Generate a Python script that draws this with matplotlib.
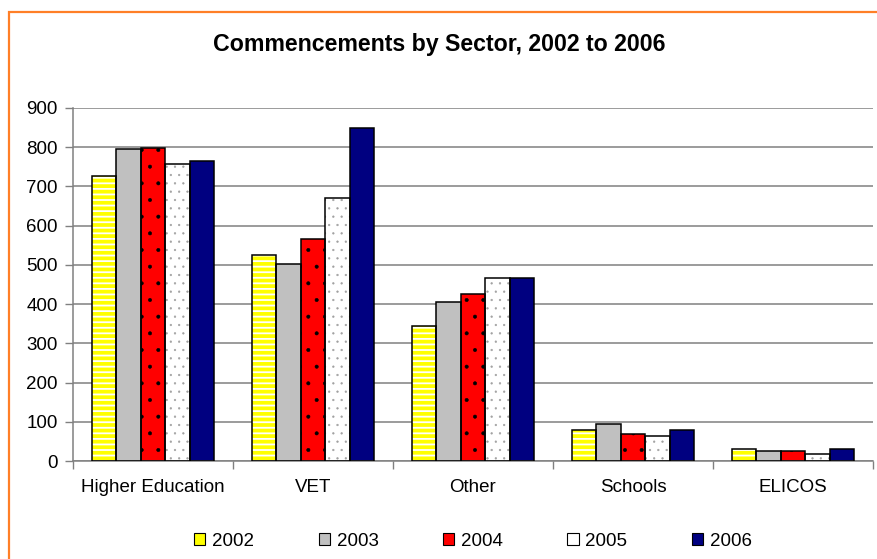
"""
Commencements by sector, 2002 to 2006
Grouped bar chart, one bar per year within each sector.
"""

import matplotlib
matplotlib.use("Agg")
import matplotlib.pyplot as plt
import numpy as np
from matplotlib.patches import Rectangle, Patch


# Data
sectors = ["Higher Education", "VET", "Other", "Schools", "ELICOS"]
years = ["2002", "2003", "2004", "2005", "2006"]
y2002 = [727, 525, 345, 80, 31]
y2003 = [795, 502, 405, 95, 25]
y2004 = [798, 567, 425, 69, 25]
y2005 = [757, 670, 467, 65, 19]
y2006 = [765, 850, 467, 80, 31]
series = [y2002, y2003, y2004, y2005, y2006]

# face colour, hatch, hatch colour, hatch linewidth
styles = [
    ("white", "---", "#FFFF00", 2.7),
    ("#C0C0C0", None, "#C0C0C0", 1.0),
    ("#FF0000", ".", "black", 0.4),
    ("white", "..", "#A0A0A0", 0.4),
    ("#000080", None, "#000080", 1.0),
]
legend_faces = ["#FFFF00", "#C0C0C0", "#FF0000", "white", "#000080"]

plt.rcParams["font.family"] = ["Liberation Sans", "DejaVu Sans"]
fs = 13.5

fig = plt.figure(figsize=(8.78, 5.59), dpi=100)
ax = fig.add_axes([73 / 878, 1 - 461 / 559, 800 / 878, 353 / 559])

# orange frame round the chart (runs off the right and bottom edges)
fig.patches.append(Rectangle((8.5 / 878, -0.2), 1.2, 1.2 - 11.5 / 559,
                             transform=fig.transFigure, fill=False,
                             edgecolor="#FF7F27", linewidth=1.6, zorder=0))

x = np.arange(len(sectors))
width = 0.153
for i, vals in enumerate(series):
    face, hatch, hcol, hlw = styles[i]
    pos = x + (i - 2) * width
    with plt.rc_context({"hatch.linewidth": hlw}):
        bars = ax.bar(pos, vals, width, color=face, hatch=hatch,
                      edgecolor=hcol, linewidth=0, zorder=2)
    for b in bars:
        if hasattr(b, "set_hatch_linewidth"):
            b.set_hatch_linewidth(hlw)
    ax.bar(pos, vals, width, fill=False, edgecolor="black", linewidth=1.1,
           zorder=3)

ax.set_xlim(-0.5, len(sectors) - 0.5)
ax.set_ylim(0, 900)
ax.set_yticks(np.arange(0, 901, 100))
ax.set_xticks(x)
ax.set_xticklabels(sectors, fontsize=fs)
ax.set_xticks(np.arange(-0.5, len(sectors), 1), minor=True)
ax.tick_params(axis="x", which="major", length=0, pad=13)
ax.tick_params(axis="x", which="minor", length=6, width=1, color="#808080",
               direction="out")
ax.tick_params(axis="y", labelsize=fs, length=6, width=1, color="#808080",
               pad=5)
ax.grid(axis="y", color="#808080", linewidth=1.1)
ax.set_axisbelow(True)
for side in ["top", "right"]:
    ax.spines[side].set_visible(False)
for side in ["left", "bottom"]:
    ax.spines[side].set_color("#808080")
    ax.spines[side].set_linewidth(1.1)

fig.text(0.5, 1 - 45 / 559, "Commencements by Sector, 2002 to 2006",
         ha="center", va="center", fontsize=16.7, fontweight="bold")

handles = [Patch(facecolor=c, edgecolor="black", linewidth=0.8)
           for c in legend_faces]
fig.legend(handles, years, loc="center", ncol=5, frameon=False,
           bbox_to_anchor=(473 / 878, 1 - 541 / 559),
           bbox_transform=fig.transFigure, fontsize=fs,
           handlelength=0.6, handleheight=0.6, handletextpad=0.35,
           columnspacing=3.45)

fig.savefig("out.png", dpi=100)
